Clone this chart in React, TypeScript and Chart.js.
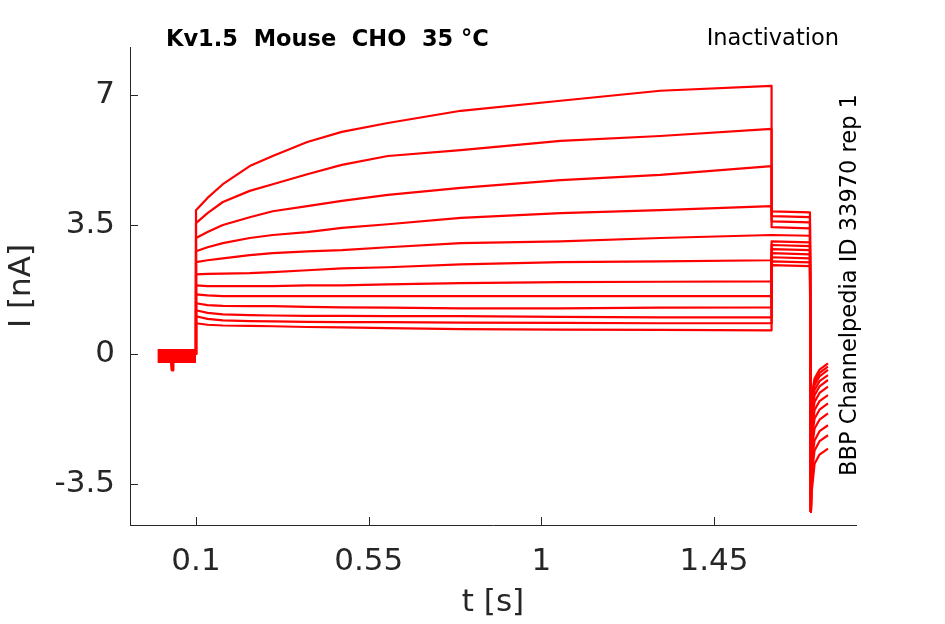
import { useEffect, useRef } from 'react';
import { Chart, registerables } from 'chart.js';

Chart.register(...registerables);

// sample times (s) along the conditioning step
const condTimes = [0.1, 0.13, 0.17, 0.24, 0.3, 0.39, 0.48, 0.6, 0.79, 1.05, 1.31, 1.6];

// current (nA) of each sweep during the conditioning step, top sweep first
const condCurrents = [
  [3.89, 4.22, 4.59, 5.08, 5.35, 5.73, 6.0, 6.24, 6.57, 6.84, 7.11, 7.24],
  [3.54, 3.81, 4.11, 4.41, 4.59, 4.86, 5.11, 5.35, 5.51, 5.76, 5.89, 6.08],
  [3.14, 3.3, 3.49, 3.7, 3.86, 4.0, 4.14, 4.3, 4.49, 4.7, 4.84, 5.08],
  [2.78, 2.89, 3.0, 3.14, 3.22, 3.3, 3.41, 3.51, 3.68, 3.81, 3.89, 4.0],
  [2.49, 2.54, 2.59, 2.68, 2.73, 2.78, 2.81, 2.89, 3.0, 3.05, 3.14, 3.22],
  [2.16, 2.17, 2.18, 2.19, 2.22, 2.27, 2.32, 2.35, 2.43, 2.49, 2.51, 2.54],
  [1.86, 1.84, 1.84, 1.84, 1.84, 1.86, 1.86, 1.89, 1.92, 1.95, 1.96, 1.97],
  [1.62, 1.59, 1.57, 1.57, 1.57, 1.57, 1.57, 1.57, 1.57, 1.57, 1.57, 1.57],
  [1.38, 1.33, 1.31, 1.3, 1.3, 1.28, 1.27, 1.26, 1.24, 1.24, 1.26, 1.27],
  [1.19, 1.12, 1.08, 1.06, 1.05, 1.04, 1.04, 1.03, 1.03, 1.01, 1.0, 1.0],
  [1.03, 0.96, 0.92, 0.9, 0.89, 0.88, 0.87, 0.87, 0.86, 0.85, 0.84, 0.84],
  [0.84, 0.8, 0.78, 0.77, 0.76, 0.74, 0.73, 0.71, 0.68, 0.67, 0.66, 0.65],
];

// test step 1.6 s -> 1.7 s
const testStartTime = 1.6;
const testEndTime = 1.7;
const testStart = [3.86, 3.73, 3.59, 3.43, 3.22, 3.05, 2.95, 2.84, 2.73, 2.62, 2.51, 2.41];
const testEnd = [3.83, 3.7, 3.56, 3.4, 3.2, 3.02, 2.92, 2.81, 2.7, 2.59, 2.48, 2.38];

// tail currents after the test step
const tailTimes = [1.7025, 1.704, 1.712, 1.725, 1.747];
const tailCurrents = [
  [-4.24, -1.14, -0.65, -0.41, -0.24],
  [-4.24, -1.25, -0.74, -0.5, -0.33],
  [-4.24, -1.36, -0.83, -0.59, -0.42],
  [-4.24, -1.5, -0.96, -0.72, -0.56],
  [-4.24, -1.65, -1.1, -0.86, -0.69],
  [-4.24, -1.85, -1.28, -1.04, -0.87],
  [-4.24, -2.09, -1.5, -1.26, -1.1],
  [-4.24, -2.33, -1.73, -1.49, -1.32],
  [-4.24, -2.61, -2.0, -1.76, -1.59],
  [-4.24, -2.95, -2.32, -2.07, -1.91],
  [-4.24, -3.31, -2.59, -2.34, -2.18],
  [-4.24, -3.76, -2.95, -2.7, -2.54],
];

// holding level before the step, and the small glitch in it
const holdTimes = [0, 0.1];
const holdLevel = [-0.04, -0.04];
const glitchTimes = [0.035, 0.0375, 0.04];
const glitchLevel = [-0.1, -0.42, -0.1];

const xTicks = [0.1, 0.55, 1, 1.45];
const yTicks = [-3.5, 0, 3.5, 7];

const INK = '#262626';
const RED = '#ff0000';
const FONT = "'DejaVu Sans', sans-serif";

const decorations = {
  id: 'decorations',
  afterDraw(chart: any) {
    const { ctx, scales } = chart;
    const x = scales.x;
    const y = scales.y;
    ctx.save();
    ctx.strokeStyle = INK;
    ctx.lineWidth = 1;
    // inward tick marks
    xTicks.forEach((v) => {
      const px = Math.round(x.getPixelForValue(v)) + 0.5;
      ctx.beginPath();
      ctx.moveTo(px, y.bottom);
      ctx.lineTo(px, y.bottom - 8);
      ctx.stroke();
    });
    yTicks.forEach((v) => {
      const py = Math.round(y.getPixelForValue(v)) + 0.5;
      ctx.beginPath();
      ctx.moveTo(x.left, py);
      ctx.lineTo(x.left + 8, py);
      ctx.stroke();
    });

    ctx.fillStyle = '#000';
    ctx.textBaseline = 'middle';
    ctx.font = `bold 22.5px ${FONT}`;
    ctx.textAlign = 'left';
    ctx.fillText('Kv1.5  Mouse  CHO  35 °C', 166, 40);
    ctx.font = `22.5px ${FONT}`;
    ctx.textAlign = 'right';
    ctx.fillText('Inactivation', 839, 39);

    ctx.translate(850, 285);
    ctx.rotate(-Math.PI / 2);
    ctx.textAlign = 'center';
    ctx.fillText('BBP Channelpedia ID 33970 rep 1', 0, 0);
    ctx.restore();
  },
};

function App() {
  const canvasRef = useRef<HTMLCanvasElement>(null);

  useEffect(() => {
    document.body.style.margin = '0';
    if (!canvasRef.current) return;

    const sweeps = condCurrents.map((cond, i) => {
      const pts: { x: number; y: number }[] = [{ x: condTimes[0], y: 0 }];
      cond.forEach((v, j) => pts.push({ x: condTimes[j], y: v }));
      pts.push({ x: testStartTime, y: testStart[i] });
      pts.push({ x: testEndTime, y: testEnd[i] });
      tailCurrents[i].forEach((v, j) => pts.push({ x: tailTimes[j], y: v }));
      return {
        data: pts,
        borderColor: RED,
        borderWidth: 2.2,
        borderJoinStyle: 'round',
        pointRadius: 0,
        tension: 0,
      };
    });

    const chart = new Chart(canvasRef.current, {
      type: 'line',
      data: {
        datasets: [
          {
            data: holdTimes.map((t, i) => ({ x: t, y: holdLevel[i] })),
            borderColor: RED,
            borderWidth: 14,
            borderCapStyle: 'butt',
            pointRadius: 0,
          },
          {
            data: glitchTimes.map((t, i) => ({ x: t, y: glitchLevel[i] })),
            borderColor: RED,
            borderWidth: 3,
            borderJoinStyle: 'round',
            pointRadius: 0,
          },
          ...sweeps,
        ] as any,
      },
      options: {
        responsive: false,
        animation: false,
        devicePixelRatio: 1,
        layout: { padding: { top: 47, right: 89, left: 0, bottom: 0 } },
        plugins: {
          legend: { display: false },
          tooltip: { enabled: false },
        },
        scales: {
          x: {
            type: 'linear',
            min: -0.072,
            max: 1.82,
            afterBuildTicks: (s: any) => {
              s.ticks = xTicks.map((v) => ({ value: v }));
            },
            afterFit: (s: any) => {
              s.height = 99;
            },
            grid: { display: false, drawTicks: false },
            border: { display: true, color: INK, width: 1 },
            ticks: {
              color: INK,
              font: { family: FONT, size: 31 },
              padding: 18,
              autoSkip: false,
              maxRotation: 0,
              callback: (v: any) => String(v),
            },
            title: {
              display: true,
              text: 't [s]',
              color: INK,
              font: { family: FONT, size: 31 },
              padding: { top: 0, bottom: 2 },
            },
          },
          y: {
            type: 'linear',
            min: -4.6,
            max: 8.29,
            afterBuildTicks: (s: any) => {
              s.ticks = yTicks.map((v) => ({ value: v }));
            },
            afterFit: (s: any) => {
              s.width = 130;
            },
            grid: { display: false, drawTicks: false },
            border: { display: true, color: INK, width: 1 },
            ticks: {
              color: INK,
              font: { family: FONT, size: 31 },
              padding: 15,
              callback: (v: any) => String(v),
            },
            title: {
              display: true,
              text: 'I [nA]',
              color: INK,
              font: { family: FONT, size: 31 },
              padding: { top: 3, bottom: 0 },
            },
          },
        },
      },
      plugins: [decorations],
    });

    return () => chart.destroy();
  }, []);

  return (
    <div style={{ width: 945, height: 624, background: '#fff' }}>
      <canvas ref={canvasRef} width={945} height={624} />
    </div>
  );
}

export default App;
